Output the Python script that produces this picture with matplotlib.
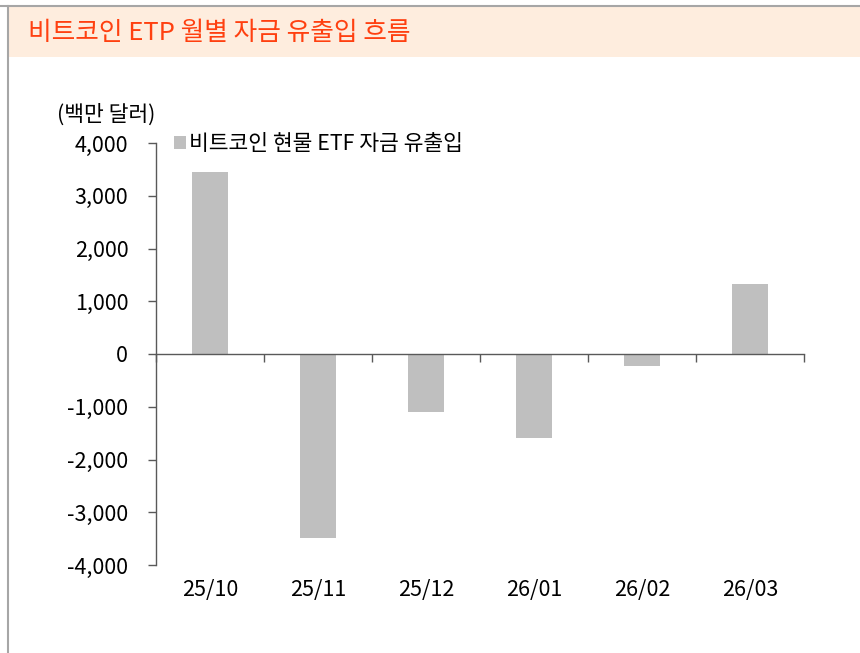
import matplotlib
matplotlib.use('Agg')
from matplotlib import pyplot as plt
from matplotlib.patches import Rectangle
from matplotlib.lines import Line2D
import matplotlib.transforms as mtransforms
import numpy as np

plt.rcParams['font.family'] = ['Noto Sans CJK KR', 'DejaVu Sans']

# data (USD mn)
months = ['25/10', '25/11', '25/12', '26/01', '26/02', '26/03']
flows = [3450, -3490, -1100, -1590, -230, 1330]
y_ticks = [-4000, -3000, -2000, -1000, 0, 1000, 2000, 3000, 4000]

title = '비트코인 ETP 월별 자금 유출입 흐름'
unit = '(백만 달러)'
series_name = '비트코인 현물 ETF 자금 유출입'

W, H = 860, 653
fs = 15.5
fig = plt.figure(figsize=(W / 100, H / 100), dpi=100)

# header band + frame lines
fig.patches.append(Rectangle((8 / W, 1 - 57 / H), 1, 51 / H, transform=fig.transFigure,
                             facecolor='#FEEDDE', edgecolor='none', zorder=0))
fig.lines.append(Line2D([0, 1], [1 - 6 / H, 1 - 6 / H], transform=fig.transFigure,
                        color='#A6A6A6', lw=1.5))
fig.lines.append(Line2D([8 / W, 8 / W], [0, 1 - 6 / H], transform=fig.transFigure,
                        color='#A6A6A6', lw=1.5))
fig.text(28 / W, 1 - 33 / H, title, fontsize=18.5, color='#FF4010', va='center', ha='left')

ax = fig.add_axes([156 / W, 88 / H, 648 / W, 422 / H])
x = np.arange(len(months))
ax.bar(x, flows, width=1 / 3, color='#BFBFBF', label=series_name, zorder=2)

ax.set_xlim(-0.5, len(months) - 0.5)
ax.set_ylim(-4000, 4000)
ax.set_yticks(y_ticks)
ax.set_yticklabels([f'{v:,}' for v in y_ticks])
ax.tick_params(axis='y', direction='out', length=6, pad=14, labelsize=fs,
               color='#595959', width=1)

# category axis sits on zero, ticks between categories
ax.spines['bottom'].set_position(('data', 0))
ax.set_xticks(np.arange(len(months) + 1) - 0.5)
ax.set_xticklabels([])
ax.tick_params(axis='x', direction='out', length=6, color='#595959', width=1)
for s in ['top', 'right']:
    ax.spines[s].set_visible(False)
for s in ['left', 'bottom']:
    ax.spines[s].set_color('#595959')
    ax.spines[s].set_linewidth(1)

trans = mtransforms.blended_transform_factory(ax.transData, ax.transAxes)
for i, m in enumerate(months):
    ax.text(i, -25 / 422, m, transform=trans, ha='center', va='center', fontsize=fs)

fig.text(57 / W, 1 - 115 / H, unit, fontsize=fs, ha='left', va='center')

ax.legend(loc='center left', bbox_to_anchor=(174 / W, 1 - 144 / H),
          bbox_transform=fig.transFigure, frameon=False, fontsize=fs,
          handlelength=0.56, handleheight=0.56, handletextpad=0.12,
          borderpad=0, borderaxespad=0)

fig.savefig('out.png', dpi=100)
